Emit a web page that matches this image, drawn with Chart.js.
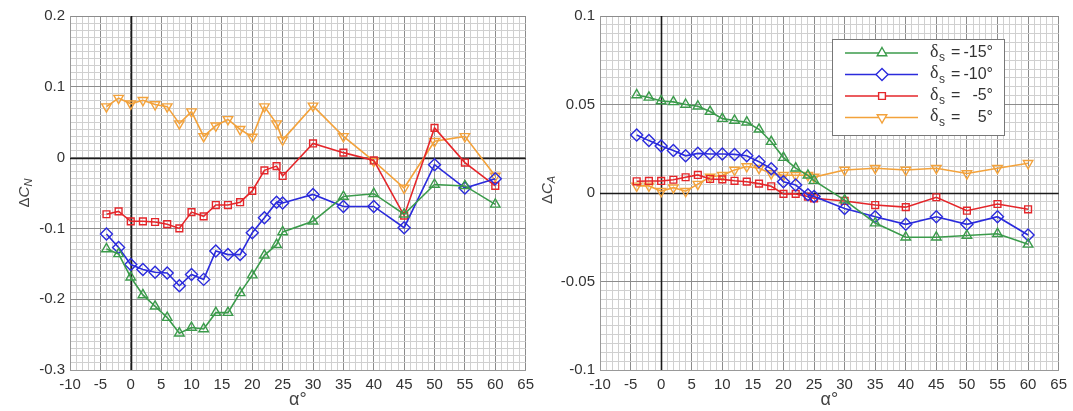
<!DOCTYPE html>
<html>
<head>
<meta charset="utf-8">
<script src="https://cdn.jsdelivr.net/npm/chart.js@4.4.1/dist/chart.umd.min.js"></script>
<style>
body { margin: 0; background: #fff; width: 1073px; height: 411px; overflow: hidden; position: relative; }
canvas { position: absolute; top: 0; }
#cnChart { left: 0; }
#caChart { left: 540px; }
</style>
</head>
<body>
<canvas id="cnChart" width="540" height="411"></canvas>
<canvas id="caChart" width="533" height="411"></canvas>
<script>
// angle of attack (deg)
const alpha = [-4, -2, 0, 2, 4, 6, 8, 10, 12, 14, 16, 18, 20, 22, 24, 25, 30, 35, 40, 45, 50, 55, 60];

// delta C_N for each spoiler deflection
const cnM15 = [-0.129, -0.136, -0.169, -0.194, -0.210, -0.226, -0.248, -0.240, -0.242, -0.219, -0.219, -0.191, -0.166, -0.138, -0.123, -0.105, -0.090, -0.055, -0.051, -0.080, -0.038, -0.040, -0.066];
const cnM10 = [-0.108, -0.127, -0.151, -0.158, -0.162, -0.163, -0.181, -0.165, -0.172, -0.132, -0.137, -0.137, -0.106, -0.085, -0.063, -0.064, -0.052, -0.069, -0.069, -0.099, -0.010, -0.043, -0.030];
const cnM5 = [-0.080, -0.076, -0.090, -0.090, -0.091, -0.094, -0.100, -0.077, -0.083, -0.067, -0.067, -0.063, -0.047, -0.018, -0.012, -0.026, 0.020, 0.007, -0.004, -0.082, 0.042, -0.007, -0.040];
const cnP5 = [0.072, 0.084, 0.076, 0.081, 0.075, 0.072, 0.048, 0.065, 0.030, 0.045, 0.054, 0.040, 0.029, 0.072, 0.048, 0.025, 0.073, 0.030, -0.005, -0.043, 0.023, 0.030, -0.026];

// delta C_A for each spoiler deflection
const caM15 = [0.0554, 0.054, 0.052, 0.0515, 0.050, 0.049, 0.046, 0.042, 0.041, 0.040, 0.036, 0.029, 0.020, 0.014, 0.010, 0.007, -0.004, -0.017, -0.025, -0.025, -0.024, -0.023, -0.029];
const caM10 = [0.0328, 0.0296, 0.0266, 0.024, 0.021, 0.0224, 0.022, 0.022, 0.0218, 0.021, 0.0177, 0.0137, 0.0064, 0.0045, -0.001, -0.002, -0.0087, -0.0134, -0.0177, -0.0134, -0.0177, -0.0134, -0.0237];
const caM5 = [0.0066, 0.0068, 0.0068, 0.0075, 0.0089, 0.0102, 0.0079, 0.0077, 0.0069, 0.0064, 0.0053, 0.0038, -0.0005, -0.0005, -0.002, -0.003, -0.0045, -0.0068, -0.008, -0.0024, -0.010, -0.0062, -0.0092];
const caP5 = [0.004, 0.004, 0.001, 0.003, 0.001, 0.005, 0.009, 0.010, 0.013, 0.015, 0.014, 0.011, 0.010, 0.010, 0.010, 0.009, 0.013, 0.014, 0.013, 0.014, 0.011, 0.014, 0.0168];

const legendText = ['-15°', '-10°', '-5°', '5°'];
const colors = ['#3b9b4b', '#2b2bdc', '#e4262a', '#f3a23b'];
const styles = ['triangle', 'rectRot', 'rect', 'triangle'];
const rotations = [0, 0, 0, 180];
const radii = [5.5, 6, 4.8, 5.5];

const tickFont = { family: 'Liberation Sans, Arial, sans-serif', size: 15 };
const tickColor = '#333';

function series(ys, i) {
    return {
        label: legendText[i],
        data: alpha.map((a, k) => ({ x: a, y: ys[k] })),
        borderColor: colors[i],
        backgroundColor: colors[i],
        borderWidth: 1.6,
        pointStyle: styles[i],
        pointRotation: rotations[i],
        pointRadius: radii[i],
        pointBorderWidth: 1.4,
        pointBackgroundColor: 'rgba(255,255,255,0)',
        tension: 0
    };
}

function gridColor(major) {
    return major ? '#8c8c8c' : '#d0d0d0';
}

// solid black zero lines, drawn over the grid
const zeroLines = {
    id: 'zeroLines',
    beforeDatasetsDraw(chart) {
        const { ctx, chartArea: a, scales } = chart;
        const x0 = Math.round(scales.x.getPixelForValue(0)) + 0.5;
        const y0 = Math.round(scales.y.getPixelForValue(0)) + 0.5;
        ctx.save();
        ctx.strokeStyle = '#1a1a1a';
        ctx.lineWidth = 1.6;
        ctx.beginPath();
        ctx.moveTo(x0, a.top);
        ctx.lineTo(x0, a.bottom);
        ctx.moveTo(a.left, y0);
        ctx.lineTo(a.right, y0);
        ctx.stroke();
        ctx.restore();
    }
};

// draws the axis titles (with subscripts) and optionally the legend
const decorPlugin = {
    id: 'decor',
    afterDraw(chart, args, opts) {
        const ctx = chart.ctx;
        ctx.save();
        ctx.fillStyle = '#444';
        ctx.textBaseline = 'middle';

        // y title, rotated
        ctx.translate(opts.yTitleX, opts.yTitleY);
        ctx.rotate(-Math.PI / 2);
        ctx.font = '15px Liberation Sans';
        const w1 = ctx.measureText('Δ').width;
        ctx.font = 'italic 15px Liberation Sans';
        const w2 = ctx.measureText('C').width;
        ctx.font = 'italic 11px Liberation Sans';
        const w3 = ctx.measureText(opts.sub).width;
        let x = -(w1 + w2 + w3) / 2;
        ctx.font = '15px Liberation Sans';
        ctx.fillText('Δ', x, 0);
        x += w1;
        ctx.font = 'italic 15px Liberation Sans';
        ctx.fillText('C', x, 0);
        x += w2;
        ctx.font = 'italic 11px Liberation Sans';
        ctx.fillText(opts.sub, x, 4);
        ctx.restore();

        // x title
        ctx.save();
        ctx.fillStyle = '#444';
        ctx.font = '18px Liberation Sans';
        ctx.textAlign = 'center';
        ctx.textBaseline = 'middle';
        const cx = (chart.chartArea.left + chart.chartArea.right) / 2;
        ctx.fillText('α°', cx, 400);
        ctx.restore();

        if (!opts.legend) return;
        const L = opts.legend;
        ctx.save();
        ctx.fillStyle = '#fff';
        ctx.fillRect(L.x, L.y, L.w, L.h);
        ctx.strokeStyle = '#777';
        ctx.lineWidth = 1;
        ctx.strokeRect(L.x + 0.5, L.y + 0.5, L.w, L.h);
        chart.data.datasets.forEach((ds, i) => {
            const ry = L.y + 14 + i * 21.5;
            ctx.strokeStyle = ds.borderColor;
            ctx.lineWidth = 1.6;
            ctx.beginPath();
            ctx.moveTo(L.x + 13, ry);
            ctx.lineTo(L.x + 86, ry);
            ctx.stroke();
            ctx.fillStyle = '#fff';
            ctx.lineWidth = 1.4;
            Chart.helpers.drawPoint(ctx, {
                pointStyle: ds.pointStyle,
                rotation: ds.pointRotation,
                radius: ds.pointRadius,
                borderWidth: 1.4
            }, L.x + 50, ry);

            ctx.fillStyle = '#333';
            ctx.textBaseline = 'middle';
            ctx.textAlign = 'left';
            ctx.font = '18px Liberation Serif';
            ctx.fillText('δ', L.x + 98, ry - 1);
            ctx.font = '12px Liberation Sans';
            ctx.fillText('s', L.x + 107, ry + 5);
            ctx.font = '16px Liberation Sans';
            ctx.fillText('=', L.x + 119, ry);
            ctx.textAlign = 'right';
            ctx.fillText(legendText[i], L.x + 161, ry);
        });
        ctx.restore();
    }
};

function makeChart(id, sets, yMin, yMax, yStep, yScale, majorEvery, yWidth, padRight, decor) {
    return new Chart(document.getElementById(id), {
        type: 'line',
        data: { datasets: sets },
        plugins: [zeroLines, decorPlugin],
        options: {
            responsive: false,
            animation: false,
            layout: { padding: { top: 16, right: padRight, left: 0, bottom: 0 } },
            plugins: {
                legend: { display: false },
                tooltip: { enabled: false },
                decor: decor
            },
            scales: {
                x: {
                    type: 'linear',
                    min: -10,
                    max: 65,
                    ticks: {
                        stepSize: 1,
                        autoSkip: false,
                        maxRotation: 0,
                        padding: 6,
                        font: tickFont,
                        color: tickColor,
                        callback: v => (v % 5 === 0 ? String(v) : '')
                    },
                    grid: {
                        drawTicks: false,
                        color: c => gridColor(c.tick.value % 5 === 0)
                    },
                    border: { color: '#999' },
                    afterFit(s) { s.height = 41; }
                },
                y: {
                    min: yMin,
                    max: yMax,
                    ticks: {
                        stepSize: yStep,
                        autoSkip: false,
                        padding: 5,
                        font: tickFont,
                        color: tickColor,
                        callback: v => {
                            const r = Math.round(v * yScale);
                            return r % majorEvery === 0 ? String(Number(v.toFixed(3))) : '';
                        }
                    },
                    grid: {
                        drawTicks: false,
                        color: c => gridColor(Math.round(c.tick.value * yScale) % majorEvery === 0)
                    },
                    border: { color: '#999' },
                    afterFit(s) { s.width = yWidth; }
                }
            }
        }
    });
}

makeChart('cnChart',
    [series(cnM15, 0), series(cnM10, 1), series(cnM5, 2), series(cnP5, 3)],
    -0.3, 0.2, 0.01, 100, 10, 70, 10,
    { yTitleX: 25, yTitleY: 193, sub: 'N' });

makeChart('caChart',
    [series(caM15, 0), series(caM10, 1), series(caM5, 2), series(caP5, 3)],
    -0.1, 0.1, 0.005, 1000, 50, 60, 14,
    { yTitleX: 8, yTitleY: 190, sub: 'A', legend: { x: 292, y: 39, w: 172, h: 96 } });
</script>
</body>
</html>
